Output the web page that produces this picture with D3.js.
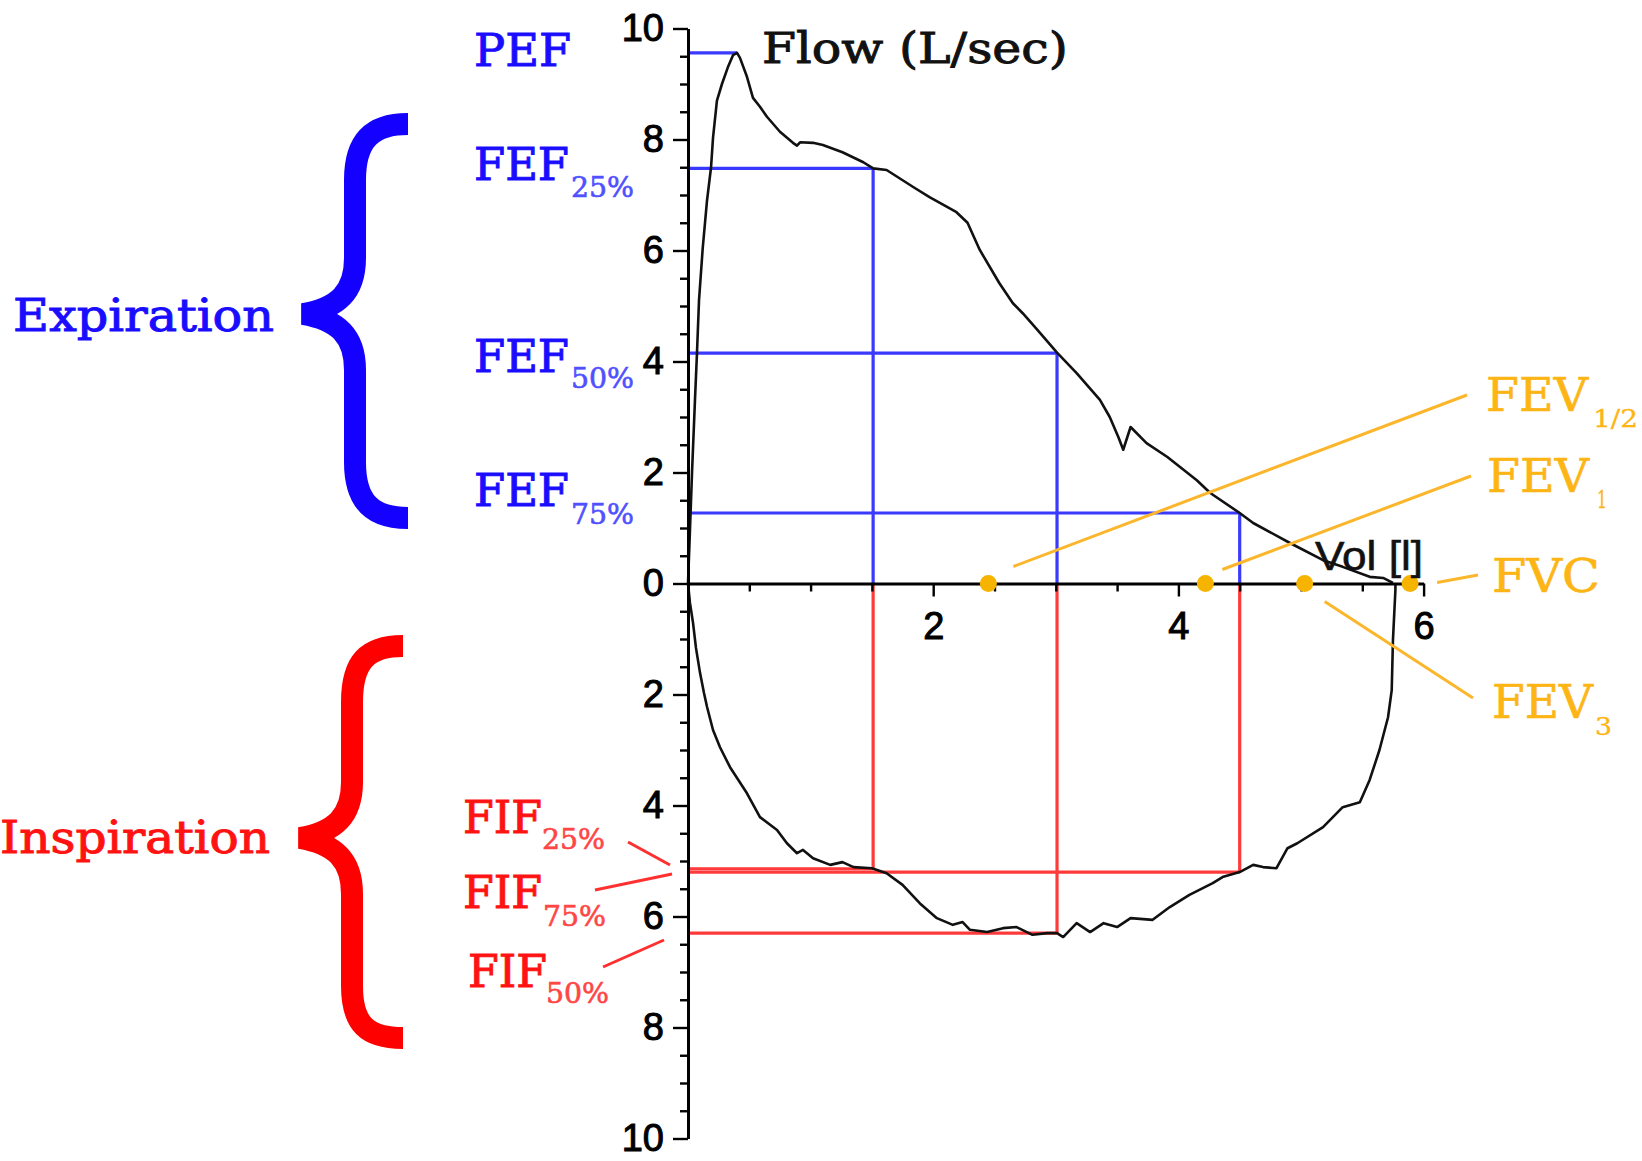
<!DOCTYPE html>
<html>
<head>
<meta charset="utf-8">
<script src="https://cdn.jsdelivr.net/npm/d3@7"></script>
<style>
  html, body { margin: 0; padding: 0; background: #ffffff; }
  svg { display: block; }
</style>
</head>
<body>
<svg id="chart" width="1642" height="1161"></svg>
<script>
// ------------------------------------------------------------------
// DATA (volume in litres, flow in L/sec; inspiratory flow is negative)
// ------------------------------------------------------------------
const expVolume = [0, 0.016, 0.033, 0.057, 0.073, 0.09, 0.12, 0.155, 0.188, 0.204, 0.236, 0.277, 0.325, 0.367, 0.40,
  0.424, 0.481, 0.530, 0.587, 0.644, 0.750, 0.856, 0.889, 0.914, 1.02, 1.10, 1.26, 1.43, 1.51, 1.62, 1.84, 1.97,
  2.19, 2.28, 2.38, 2.54, 2.65, 2.73, 2.85, 3.01, 3.17, 3.36, 3.44, 3.51, 3.55, 3.61, 3.74, 3.91, 4.15, 4.26,
  4.50, 4.61, 4.91, 5.18, 5.34, 5.56, 5.67, 5.75];
const expFlow = [0, 0.96, 2.01, 3.31, 4.14, 5.11, 6.04, 6.90, 7.50, 8.03, 8.70, 9.00, 9.30, 9.52, 9.56,
  9.47, 9.13, 8.75, 8.59, 8.41, 8.14, 7.94, 7.89, 7.95, 7.94, 7.90, 7.77, 7.59, 7.48, 7.45, 7.14, 6.96,
  6.69, 6.50, 6.01, 5.41, 5.05, 4.87, 4.57, 4.16, 3.79, 3.31, 3.00, 2.64, 2.41, 2.82, 2.53, 2.28, 1.86, 1.63,
  1.27, 1.09, 0.73, 0.42, 0.30, 0.12, 0.10, 0.01];

const inspVolume = [0, 0.016, 0.041, 0.065, 0.098, 0.13, 0.155, 0.204, 0.261, 0.343, 0.481, 0.587, 0.726, 0.807,
  0.889, 0.938, 1.02, 1.16, 1.26, 1.35, 1.50, 1.62, 1.75, 1.89, 2.03, 2.16, 2.24, 2.30, 2.44, 2.57, 2.68, 2.81,
  2.93, 3.01, 3.06, 3.17, 3.28, 3.39, 3.50, 3.61, 3.79, 3.93, 4.09, 4.28, 4.36, 4.50, 4.61, 4.69, 4.80, 4.89,
  4.97, 5.18, 5.34, 5.48, 5.56, 5.64, 5.71, 5.74, 5.75, 5.77, 5.77];
const inspFlow = [0, -0.35, -0.71, -1.16, -1.61, -1.97, -2.22, -2.64, -2.95, -3.31, -3.78, -4.21, -4.44, -4.68,
  -4.86, -4.80, -4.95, -5.07, -5.02, -5.11, -5.13, -5.22, -5.43, -5.76, -6.03, -6.15, -6.10, -6.24, -6.28, -6.21,
  -6.19, -6.33, -6.30, -6.30, -6.37, -6.12, -6.28, -6.12, -6.19, -6.03, -6.06, -5.83, -5.61, -5.40, -5.29, -5.20,
  -5.07, -5.11, -5.13, -4.77, -4.68, -4.39, -4.03, -3.94, -3.54, -3.00, -2.41, -1.92, -1.02, -0.12, 0];

const pefVolume = 0.40;
const pefFlow = 9.56;

const fractionNames = ["25%", "50%", "75%"];
const fractionVolumes = [1.51, 3.01, 4.50];
const fefFlows = [7.48, 4.15, 1.27];
const fifFlows = [-5.14, -6.30, -5.20];

const fevNames = ["FEV½", "FEV1", "FEV3", "FVC"];
const fevVolumes = [2.45, 4.22, 5.03, 5.89];

const yTickValues = [-10, -8, -6, -4, -2, 0, 2, 4, 6, 8, 10];
const yTickLabels = ["10", "8", "6", "4", "2", "0", "2", "4", "6", "8", "10"];
const xTickValues = [2, 4, 6];
const xTickLabels = ["2", "4", "6"];

// ------------------------------------------------------------------
// SCALES
// ------------------------------------------------------------------
const svg = d3.select("#chart");
const x = d3.scaleLinear().domain([0, 6]).range([688, 1423.6]);
const y = d3.scaleLinear().domain([-10, 10]).range([1138.5, 28.5]);

const BLUE_LINE = "#3a3aff", RED_LINE = "#ff3a3a";
const BLUE_TXT = "#1a0dff", BLUE_SUB = "#5050ff", BLUE_BRACE = "#1400ff";
const RED_TXT = "#ff1212", RED_SUB = "#ff4646", RED_BRACE = "#ff0000";
const ORANGE = "#fdb515", ORANGE_LINE = "#fcb62c", ORANGE_DOT = "#f6b300";
const SERIF = "'DejaVu Serif', serif";
const SANS = "'Liberation Sans', Arial, sans-serif";

svg.append("rect").attr("width", 1642).attr("height", 1161).attr("fill", "#fff");

// ------------------------------------------------------------------
// REFERENCE LINES (FEF blue, FIF red)
// ------------------------------------------------------------------
const ref = svg.append("g").attr("fill", "none").attr("stroke-width", 3.2);
ref.append("line").attr("stroke", BLUE_LINE)
  .attr("x1", x(0)).attr("x2", x(pefVolume)).attr("y1", y(pefFlow)).attr("y2", y(pefFlow));
fractionVolumes.forEach((v, i) => {
  ref.append("line").attr("stroke", BLUE_LINE)
    .attr("x1", x(0)).attr("x2", x(v)).attr("y1", y(fefFlows[i])).attr("y2", y(fefFlows[i]));
  ref.append("line").attr("stroke", BLUE_LINE)
    .attr("x1", x(v)).attr("x2", x(v)).attr("y1", y(fefFlows[i])).attr("y2", y(0));
  ref.append("line").attr("stroke", RED_LINE)
    .attr("x1", x(0)).attr("x2", x(v)).attr("y1", y(fifFlows[i])).attr("y2", y(fifFlows[i]));
  ref.append("line").attr("stroke", RED_LINE)
    .attr("x1", x(v)).attr("x2", x(v)).attr("y1", y(0)).attr("y2", y(fifFlows[i]));
});

// ------------------------------------------------------------------
// FLOW-VOLUME LOOP
// ------------------------------------------------------------------
const line = d3.line().x(d => x(d[0])).y(d => y(d[1])).curve(d3.curveLinear);
const expPts = expVolume.map((v, i) => [v, expFlow[i]]);
const inspPts = inspVolume.map((v, i) => [v, inspFlow[i]]);
[expPts, inspPts].forEach(pts => {
  svg.append("path").datum(pts).attr("d", line)
    .attr("fill", "none").attr("stroke", "#111").attr("stroke-width", 2.6)
    .attr("stroke-linejoin", "round");
});

// ------------------------------------------------------------------
// AXES
// ------------------------------------------------------------------
const minorY = d3.range(-10, 10.001, 0.5).filter(d => !yTickValues.includes(d));
const minorX = d3.range(0.5, 6, 0.5).filter(d => !xTickValues.includes(d));

const yMinor = svg.append("g").attr("transform", `translate(${x(0)},0)`)
  .call(d3.axisLeft(y).tickValues(minorY).tickSize(8).tickFormat(""));
yMinor.select(".domain").remove();
svg.append("g").attr("transform", `translate(${x(0)},0)`)
  .call(d3.axisLeft(y).tickValues(yTickValues).tickSize(15).tickSizeOuter(0).tickPadding(9)
    .tickFormat(d => yTickLabels[yTickValues.indexOf(d)]));

const xMinor = svg.append("g").attr("transform", `translate(0,${y(0)})`)
  .call(d3.axisBottom(x).tickValues(minorX).tickSize(8).tickFormat(""));
xMinor.select(".domain").remove();
svg.append("g").attr("transform", `translate(0,${y(0)})`)
  .call(d3.axisBottom(x).tickValues(xTickValues).tickSize(13).tickSizeOuter(0).tickPadding(16)
    .tickFormat(d => xTickLabels[xTickValues.indexOf(d)]));

svg.selectAll(".domain").attr("stroke", "#000").attr("stroke-width", 3);
svg.selectAll(".tick line").attr("stroke", "#000").attr("stroke-width", 2.4);
svg.selectAll(".tick text").attr("font-family", SANS).attr("font-size", 38)
  .attr("fill", "#000").attr("stroke", "#000").attr("stroke-width", 1.0);

// ------------------------------------------------------------------
// FEV / FVC markers on the volume axis
// ------------------------------------------------------------------
const fevLayout = [
  { start: [25, -17], end: [1467, 395], text: "FEV", tx: 1486, ty: 411, tl: 102, sub: "1/2", sx: 1593, sy: 427, sl: 45 },
  { start: [17, -14], end: [1471, 476], text: "FEV", tx: 1487, ty: 492, tl: 102, sub: "1", sx: 1597, sy: 508, sl: 10 },
  { start: [20, 18], end: [1473, 698], text: "FEV", tx: 1492, ty: 718, tl: 101, sub: "3", sx: 1595, sy: 735, sl: 17 },
  { start: [27, -1], end: [1478, 575], text: "FVC", tx: 1492, ty: 592, tl: 108, sub: null }
];
const fevG = svg.append("g");
fevVolumes.forEach((v, i) => {
  const L = fevLayout[i];
  fevG.append("line")
    .attr("x1", x(v) + L.start[0]).attr("y1", y(0) + L.start[1])
    .attr("x2", L.end[0]).attr("y2", L.end[1])
    .attr("stroke", ORANGE_LINE).attr("stroke-width", 3);
});
fevG.selectAll("circle").data(fevVolumes).join("circle")
  .attr("cx", d => x(d)).attr("cy", y(0)).attr("r", 8.5).attr("fill", ORANGE_DOT);

// ------------------------------------------------------------------
// TEXT HELPERS
// ------------------------------------------------------------------
function label(tx, ty, str, size, color, family, tl, sw) {
  const t = svg.append("text").attr("x", tx).attr("y", ty)
    .attr("font-family", family).attr("font-size", size).attr("fill", color).text(str);
  if (tl) t.attr("textLength", tl).attr("lengthAdjust", "spacingAndGlyphs");
  if (sw) t.attr("stroke", color).attr("stroke-width", sw);
  return t;
}

fevLayout.forEach(L => {
  label(L.tx, L.ty, L.text, 46, ORANGE, SERIF, L.tl, 0.6);
  if (L.sub) label(L.sx, L.sy, L.sub, 24, ORANGE, SERIF, L.sl, 0.3);
});

// Axis titles
label(762, 63, "Flow (L/sec)", 42, "#111", SERIF, 306, 0.9);
label(1315, 570, "Vol [l]", 40, "#111", SANS, 108, 0.6);

// Expiration labels (blue)
label(474, 66, "PEF", 45, BLUE_TXT, SERIF, 97, 1.0);
const fefY = [[180, 197], [372, 388], [506, 524]];
fractionNames.forEach((n, i) => {
  label(474, fefY[i][0], "FEF", 45, BLUE_TXT, SERIF, 95, 1.0);
  label(571, fefY[i][1], n, 28, BLUE_SUB, SERIF, 63, 0.6);
});
label(13, 331, "Expiration", 45, BLUE_TXT, SERIF, 261, 1.0);

// Inspiration labels (red)
label(0, 853, "Inspiration", 45, RED_TXT, SERIF, 270, 1.0);
const fifLayout = [
  { name: "25%", fx: 463, fy: 833, sx: 542, sy: 849, lead: [[628, 842], [670, 865]] },
  { name: "75%", fx: 463, fy: 908, sx: 543, sy: 926, lead: [[595, 890], [672, 874]] },
  { name: "50%", fx: 468, fy: 987, sx: 546, sy: 1003, lead: [[603, 967], [664, 940]] }
];
fifLayout.forEach(L => {
  label(L.fx, L.fy, "FIF", 45, RED_TXT, SERIF, 79, 1.0);
  label(L.sx, L.sy, L.name, 28, RED_SUB, SERIF, 63, 0.6);
  svg.append("line").attr("x1", L.lead[0][0]).attr("y1", L.lead[0][1])
    .attr("x2", L.lead[1][0]).attr("y2", L.lead[1][1])
    .attr("stroke", "#ff3030").attr("stroke-width", 3);
});

// Braces
svg.append("path")
  .attr("d", "M408,124 C372,124 355,140 355,180 L355,258 C355,292 338,308 303,314 C338,320 355,336 355,370 L355,462 C355,502 372,518 408,518")
  .attr("fill", "none").attr("stroke", BLUE_BRACE).attr("stroke-width", 22)
  .attr("stroke-linejoin", "bevel");
svg.append("path")
  .attr("d", "M403,646 C367,646 352,662 352,702 L352,782 C352,816 335,832 300,838 C335,844 352,860 352,894 L352,986 C352,1024 367,1038 403,1038")
  .attr("fill", "none").attr("stroke", RED_BRACE).attr("stroke-width", 22)
  .attr("stroke-linejoin", "bevel");
</script>
</body>
</html>
